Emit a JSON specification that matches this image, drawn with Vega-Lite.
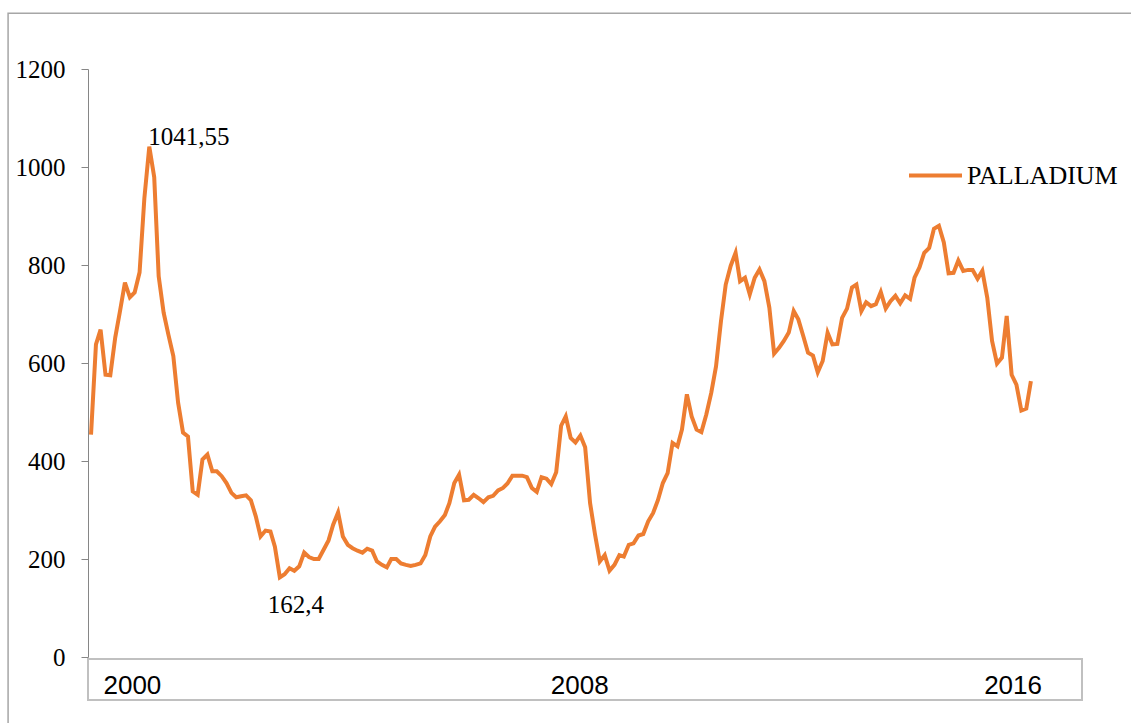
{
  "$schema": "https://vega.github.io/schema/vega-lite/v6.json",
  "width": 994,
  "height": 588,
  "autosize": "none",
  "padding": {"left": 88, "top": 69, "right": 49, "bottom": 66},
  "background": "white",
  "config": {
    "view": {"stroke": null},
    "font": "Liberation Serif",
    "legend": {"labelFont": "Liberation Serif", "labelFontSize": 26, "labelColor": "black"},
    "axisY": {
      "grid": false,
      "title": null,
      "labelFont": "Liberation Serif",
      "labelFontSize": 25,
      "labelColor": "black",
      "labelPadding": 16,
      "tickSize": 7,
      "tickColor": "#868686",
      "domainColor": "#868686",
      "tickWidth": 1,
      "domainWidth": 1
    }
  },
  "datasets": {
    "palladium": [
      {"d":"2000-01-01","v":454},{"d":"2000-02-01","v":638},{"d":"2000-03-01","v":668},{"d":"2000-04-01","v":576},{"d":"2000-05-01","v":575},{"d":"2000-06-01","v":652},{"d":"2000-07-01","v":706},{"d":"2000-08-01","v":764},{"d":"2000-09-01","v":734},{"d":"2000-10-01","v":744},{"d":"2000-11-01","v":785},{"d":"2000-12-01","v":936},
      {"d":"2001-01-01","v":1041.55},{"d":"2001-02-01","v":979},{"d":"2001-03-01","v":777},{"d":"2001-04-01","v":703},{"d":"2001-05-01","v":658},{"d":"2001-06-01","v":614},{"d":"2001-07-01","v":519},{"d":"2001-08-01","v":458},{"d":"2001-09-01","v":450},{"d":"2001-10-01","v":338},{"d":"2001-11-01","v":331},{"d":"2001-12-01","v":403},
      {"d":"2002-01-01","v":413},{"d":"2002-02-01","v":379},{"d":"2002-03-01","v":379},{"d":"2002-04-01","v":369},{"d":"2002-05-01","v":355},{"d":"2002-06-01","v":335},{"d":"2002-07-01","v":326},{"d":"2002-08-01","v":328},{"d":"2002-09-01","v":330},{"d":"2002-10-01","v":320},{"d":"2002-11-01","v":287},{"d":"2002-12-01","v":246},
      {"d":"2003-01-01","v":258},{"d":"2003-02-01","v":256},{"d":"2003-03-01","v":225},{"d":"2003-04-01","v":162.4},{"d":"2003-05-01","v":169},{"d":"2003-06-01","v":181},{"d":"2003-07-01","v":176},{"d":"2003-08-01","v":185},{"d":"2003-09-01","v":213},{"d":"2003-10-01","v":204},{"d":"2003-11-01","v":200},{"d":"2003-12-01","v":200},
      {"d":"2004-01-01","v":219},{"d":"2004-02-01","v":238},{"d":"2004-03-01","v":270},{"d":"2004-04-01","v":295},{"d":"2004-05-01","v":246},{"d":"2004-06-01","v":229},{"d":"2004-07-01","v":222},{"d":"2004-08-01","v":217},{"d":"2004-09-01","v":213},{"d":"2004-10-01","v":221},{"d":"2004-11-01","v":217},{"d":"2004-12-01","v":195},
      {"d":"2005-01-01","v":188},{"d":"2005-02-01","v":183},{"d":"2005-03-01","v":200},{"d":"2005-04-01","v":200},{"d":"2005-05-01","v":191},{"d":"2005-06-01","v":188},{"d":"2005-07-01","v":186},{"d":"2005-08-01","v":188},{"d":"2005-09-01","v":191},{"d":"2005-10-01","v":208},{"d":"2005-11-01","v":246},{"d":"2005-12-01","v":266},
      {"d":"2006-01-01","v":277},{"d":"2006-02-01","v":290},{"d":"2006-03-01","v":314},{"d":"2006-04-01","v":355},{"d":"2006-05-01","v":372},{"d":"2006-06-01","v":320},{"d":"2006-07-01","v":321},{"d":"2006-08-01","v":331},{"d":"2006-09-01","v":324},{"d":"2006-10-01","v":316},{"d":"2006-11-01","v":326},{"d":"2006-12-01","v":329},
      {"d":"2007-01-01","v":340},{"d":"2007-02-01","v":345},{"d":"2007-03-01","v":354},{"d":"2007-04-01","v":370},{"d":"2007-05-01","v":370},{"d":"2007-06-01","v":370},{"d":"2007-07-01","v":367},{"d":"2007-08-01","v":345},{"d":"2007-09-01","v":337},{"d":"2007-10-01","v":367},{"d":"2007-11-01","v":364},{"d":"2007-12-01","v":353},
      {"d":"2008-01-01","v":377},{"d":"2008-02-01","v":472},{"d":"2008-03-01","v":491},{"d":"2008-04-01","v":447},{"d":"2008-05-01","v":438},{"d":"2008-06-01","v":452},{"d":"2008-07-01","v":428},{"d":"2008-08-01","v":314},{"d":"2008-09-01","v":250},{"d":"2008-10-01","v":195},{"d":"2008-11-01","v":208},{"d":"2008-12-01","v":176},
      {"d":"2009-01-01","v":188},{"d":"2009-02-01","v":208},{"d":"2009-03-01","v":205},{"d":"2009-04-01","v":229},{"d":"2009-05-01","v":232},{"d":"2009-06-01","v":248},{"d":"2009-07-01","v":251},{"d":"2009-08-01","v":277},{"d":"2009-09-01","v":294},{"d":"2009-10-01","v":320},{"d":"2009-11-01","v":355},{"d":"2009-12-01","v":375},
      {"d":"2010-01-01","v":437},{"d":"2010-02-01","v":430},{"d":"2010-03-01","v":464},{"d":"2010-04-01","v":536},{"d":"2010-05-01","v":491},{"d":"2010-06-01","v":464},{"d":"2010-07-01","v":459},{"d":"2010-08-01","v":495},{"d":"2010-09-01","v":539},{"d":"2010-10-01","v":593},{"d":"2010-11-01","v":685},{"d":"2010-12-01","v":760},
      {"d":"2011-01-01","v":798},{"d":"2011-02-01","v":825},{"d":"2011-03-01","v":767},{"d":"2011-04-01","v":774},{"d":"2011-05-01","v":740},{"d":"2011-06-01","v":774},{"d":"2011-07-01","v":791},{"d":"2011-08-01","v":767},{"d":"2011-09-01","v":713},{"d":"2011-10-01","v":619},{"d":"2011-11-01","v":631},{"d":"2011-12-01","v":645},
      {"d":"2012-01-01","v":662},{"d":"2012-02-01","v":706},{"d":"2012-03-01","v":689},{"d":"2012-04-01","v":655},{"d":"2012-05-01","v":621},{"d":"2012-06-01","v":615},{"d":"2012-07-01","v":581},{"d":"2012-08-01","v":604},{"d":"2012-09-01","v":662},{"d":"2012-10-01","v":638},{"d":"2012-11-01","v":639},{"d":"2012-12-01","v":692},
      {"d":"2013-01-01","v":711},{"d":"2013-02-01","v":754},{"d":"2013-03-01","v":760},{"d":"2013-04-01","v":706},{"d":"2013-05-01","v":724},{"d":"2013-06-01","v":716},{"d":"2013-07-01","v":720},{"d":"2013-08-01","v":745},{"d":"2013-09-01","v":711},{"d":"2013-10-01","v":726},{"d":"2013-11-01","v":737},{"d":"2013-12-01","v":722},
      {"d":"2014-01-01","v":738},{"d":"2014-02-01","v":731},{"d":"2014-03-01","v":774},{"d":"2014-04-01","v":795},{"d":"2014-05-01","v":825},{"d":"2014-06-01","v":835},{"d":"2014-07-01","v":874},{"d":"2014-08-01","v":880},{"d":"2014-09-01","v":846},{"d":"2014-10-01","v":783},{"d":"2014-11-01","v":784},{"d":"2014-12-01","v":809},
      {"d":"2015-01-01","v":788},{"d":"2015-02-01","v":790},{"d":"2015-03-01","v":790},{"d":"2015-04-01","v":772},{"d":"2015-05-01","v":788},{"d":"2015-06-01","v":733},{"d":"2015-07-01","v":645},{"d":"2015-08-01","v":599},{"d":"2015-09-01","v":611},{"d":"2015-10-01","v":696},{"d":"2015-11-01","v":576},{"d":"2015-12-01","v":556},
      {"d":"2016-01-01","v":503},{"d":"2016-02-01","v":507},{"d":"2016-03-01","v":563}
    ]
  },
  "data": {"name": "palladium"},
  "layer": [
    {
      "data": {"values": [{}]},
      "mark": {"type": "rect", "fill": null, "fillOpacity": 0, "stroke": "#a6a6a6", "strokeWidth": 1.5},
      "encoding": {
        "x": {"datum": {"year": 1998, "month": 7, "date": 29}, "type": "temporal", "axis": null, "scale": {"domain": [{"year": 1999, "month": 12, "date": 13}, {"year": 2017, "month": 1, "date": 16}]}},
        "x2": {"datum": {"year": 2020, "month": 1, "date": 1}},
        "y": {"datum": 1314, "type": "quantitative", "axis": {"values": [0, 200, 400, 600, 800, 1000, 1200], "format": "d"}, "scale": {"domain": [0, 1200], "nice": false, "zero": false}},
        "y2": {"datum": -400}
      }
    },
    {
      "data": {"values": [{}]},
      "mark": {"type": "rect", "fill": null, "fillOpacity": 0, "stroke": "#c0c0c0", "strokeWidth": 2},
      "encoding": {
        "x": {"datum": {"year": 1999, "month": 12, "date": 13}, "type": "temporal", "axis": null, "scale": {"domain": [{"year": 1999, "month": 12, "date": 13}, {"year": 2017, "month": 1, "date": 16}]}},
        "x2": {"datum": {"year": 2017, "month": 1, "date": 16}},
        "y": {"datum": -4, "type": "quantitative", "axis": {"values": [0, 200, 400, 600, 800, 1000, 1200], "format": "d"}, "scale": {"domain": [0, 1200], "nice": false, "zero": false}},
        "y2": {"datum": -88}
      }
    },
    {
      "mark": {"type": "line", "strokeWidth": 4},
      "encoding": {
        "x": {"field": "d", "type": "temporal", "axis": null, "scale": {"domain": [{"year": 1999, "month": 12, "date": 13}, {"year": 2017, "month": 1, "date": 16}]}},
        "y": {"field": "v", "type": "quantitative", "title": null, "axis": {"values": [0, 200, 400, 600, 800, 1000, 1200], "format": "d"}, "scale": {"domain": [0, 1200], "nice": false, "zero": false}},
        "color": {
          "datum": "PALLADIUM",
          "scale": {"range": ["#ED7D31"]},
          "legend": {
            "orient": "none",
            "legendX": 819,
            "legendY": 78,
            "title": null,
            "padding": 0,
            "symbolType": "stroke",
            "symbolSize": 2809,
            "symbolStrokeWidth": 4,
            "labelFont": "Liberation Serif",
            "labelFontSize": 26,
            "labelColor": "black",
            "labelOffset": 3
          }
        }
      }
    },
    {
      "data": {"values": [{"d": "2001-01-01", "v": 1041.55, "t": "1041,55"}]},
      "mark": {"type": "text", "align": "left", "baseline": "alphabetic", "dx": -1, "dy": -2, "font": "Liberation Serif", "fontSize": 25, "color": "black"},
      "encoding": {
        "x": {"field": "d", "type": "temporal", "axis": null, "scale": {"domain": [{"year": 1999, "month": 12, "date": 13}, {"year": 2017, "month": 1, "date": 16}]}},
        "y": {"field": "v", "type": "quantitative", "title": null, "axis": {"values": [0, 200, 400, 600, 800, 1000, 1200], "format": "d"}, "scale": {"domain": [0, 1200], "nice": false, "zero": false}},
        "text": {"field": "t"}
      }
    },
    {
      "data": {"values": [{"d": "2003-04-01", "v": 162.4, "t": "162,4"}]},
      "mark": {"type": "text", "align": "center", "baseline": "alphabetic", "dx": 16, "dy": 36, "font": "Liberation Serif", "fontSize": 25, "color": "black"},
      "encoding": {
        "x": {"field": "d", "type": "temporal", "axis": null, "scale": {"domain": [{"year": 1999, "month": 12, "date": 13}, {"year": 2017, "month": 1, "date": 16}]}},
        "y": {"field": "v", "type": "quantitative", "title": null, "axis": {"values": [0, 200, 400, 600, 800, 1000, 1200], "format": "d"}, "scale": {"domain": [0, 1200], "nice": false, "zero": false}},
        "text": {"field": "t"}
      }
    },
    {
      "data": {"values": [{"d": "2000-09-17", "t": "2000"}, {"d": "2008-05-28", "t": "2008"}, {"d": "2015-11-10", "t": "2016"}]},
      "mark": {"type": "text", "align": "center", "baseline": "middle", "font": "Liberation Sans", "fontSize": 26, "color": "black"},
      "encoding": {
        "x": {"field": "d", "type": "temporal", "axis": null, "scale": {"domain": [{"year": 1999, "month": 12, "date": 13}, {"year": 2017, "month": 1, "date": 16}]}},
        "y": {"datum": -59, "type": "quantitative", "axis": {"values": [0, 200, 400, 600, 800, 1000, 1200], "format": "d"}, "scale": {"domain": [0, 1200], "nice": false, "zero": false}},
        "text": {"field": "t"}
      }
    }
  ]
}
